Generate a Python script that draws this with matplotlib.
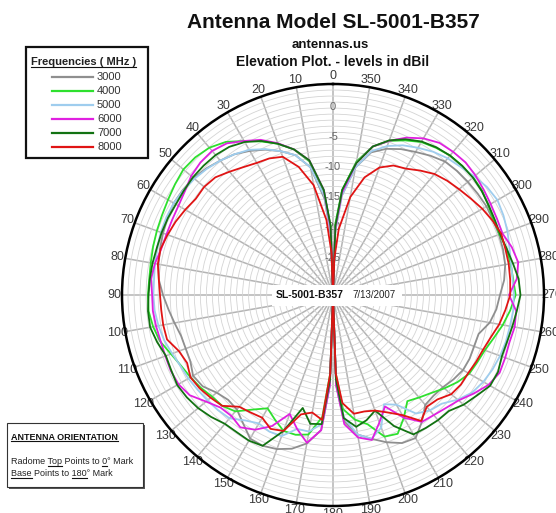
import matplotlib
matplotlib.use("Agg")
import matplotlib.pyplot as plt
import numpy as np
from matplotlib.lines import Line2D
from matplotlib.patches import Rectangle

plt.rcParams["font.family"] = ["Liberation Sans", "DejaVu Sans"]

# Elevation angles (deg) and gain (dBil) per frequency
angles = [0, 2, 5, 10, 15, 20, 25, 30, 35, 40, 45, 50, 55, 60, 65, 70, 75, 80, 85, 90,
          95, 100, 105, 110, 115, 120, 125, 130, 135, 140, 145, 150, 155, 160, 165, 170,
          175, 178, 180, 182, 185, 190, 195, 200, 205, 210, 215, 220, 225, 230, 235, 240,
          245, 250, 255, 260, 265, 270, 275, 280, 285, 290, 295, 300, 305, 310, 315, 320,
          325, 330, 335, 340, 345, 350, 355, 358, 360]

gain_3000 = [-30, -20, -14, -8.5, -6.0, -4.6, -3.4, -2.4, -1.5, -0.9, -0.3, 0.2, 0.4, 0.5, 0.3, 0.0,
             -0.3, -0.6, -1.0, -1.8, -2.6, -3.3, -3.9, -4.0, -3.9, -3.2, -3.6, -4.8, -5.4, -5.2,
             -4.0, -2.5, -2.4, -2.8, -3.6, -5.0, -7.5, -15, -30, -15, -9, -6.5, -5.3, -4.0, -2.9,
             -2.6, -4.3, -6.2, -6.4, -6.2, -5.6, -5.1, -5.0, -5.1, -5.0, -3.6, -2.8, -2.3, -1.5,
             -1.0, -0.8, -0.7, -0.7, -0.6, -0.7, -0.8, -0.9, -1.1, -1.8, -2.6, -3.3, -4.2, -5.5,
             -8.5, -13.5, -19.5, -30]
gain_4000 = [-30, -18.5, -13, -7.5, -5.0, -3.3, -1.9, -0.5, 1.0, 1.9, 2.3, 2.4, 2.0, 1.6, 1.3, 1.1,
             0.9, 0.7, 0.6, 0.7, 0.7, 0.3, -0.3, -1.4, -2.2, -2.7, -3.2, -3.8, -4.0, -4.8, -6.8,
             -8.3, -7.2, -6.0, -6.0, -6.5, -9.7, -17, -30, -17, -11, -9.0, -7.8, -5.0, -4.6, -6.5,
             -8.5, -7.8, -7.0, -5.9, -4.8, -3.9, -3.6, -3.2, -2.4, -1.4, -0.5, 0.3, 0.0, -0.1,
             -0.2, -0.6, -0.6, -0.25, 0.2, 0.35, 0.3, 0.2, -0.2, -0.7, -1.7, -2.8, -4.5, -7.5,
             -12.5, -18, -30]
gain_5000 = [-30, -20, -13.5, -8.5, -6.0, -4.6, -3.3, -2.2, -1.5, -0.9, -0.4, 0.0, 0.3, 0.5, 0.5,
             0.4, 0.2, 0.0, -0.2, -0.2, -0.3, -0.6, -1.0, -1.6, -2.1, -2.3, -2.6, -2.8, -3.0, -3.3,
             -4.6, -5.4, -5.0, -5.1, -7.0, -7.0, -8.5, -16, -30, -16, -9.7, -6.5, -5.3, -6.6,
             -10.0, -9.0, -6.0, -5.0, -4.5, -3.0, -1.8, -1.2, -0.8, -0.5, -0.3, -0.2, 0.0, 0.0,
             -0.1, 0.0, 0.3, 0.8, 1.2, 1.5, 1.2, 0.6, 0.0, -0.4, -1.0, -1.8, -2.6, -3.7, -5.3,
             -8.5, -13.5, -19.5, -30]
gain_6000 = [-30, -19, -12.5, -7.3, -5.0, -3.2, -1.6, -0.5, 0.7, 1.2, 1.1, 0.7, 0.0, -0.4, -0.55,
             -0.6, -0.5, 0.0, 0.3, 0.0, 0.0, -0.2, -0.4, -0.4, -0.3, -0.4, -1.0, -2.5, -3.6, -3.8,
             -3.2, -4.2, -6.0, -9.0, -7.0, -5.1, -7.5, -15, -30, -15, -8.5, -6.0, -5.1, -7.5, -9.6,
             -6.5, -4.3, -4.0, -3.5, -2.8, -1.5, -0.2, 0.5, 0.4, 0.3, 0.6, 0.5, -0.8, 0.6, 1.2,
             0.7, -0.1, 0.0, 0.2, 0.5, 0.85, 1.1, 1.0, 0.8, 0.0, -1.2, -2.8, -4.5, -7.8, -13,
             -19, -30]
gain_7000 = [-30, -18.5, -12.5, -7.3, -5.0, -3.3, -1.8, -0.7, 0.0, 0.3, 0.35, 0.35, 0.2, 0.1, 0.2,
             0.25, 0.25, 0.4, 0.5, 0.6, 0.8, 0.8, 0.2, -0.5, -0.4, -0.15, -0.4, -0.8, -1.4, -2.1,
             -2.2, -2.1, -2.4, -6.0, -10.6, -8.3, -8.5, -16, -30, -16, -9.5, -7.8, -8.5, -9.6, -6.0,
             -3.3, -3.1, -2.9, -2.8, -1.7, -0.9, 0.1, 0.2, -0.2, -0.1, 0.2, 0.6, 1.1, 0.9, 0.3,
             -0.2, -0.5, -0.4, -0.2, 0.1, 0.3, 0.3, 0.2, -0.1, -0.6, -1.5, -2.7, -4.5, -7.8, -12.5,
             -18.5, -30]
gain_8000 = [-30, -23, -17.5, -11.5, -8.0, -5.6, -5.0, -4.7, -4.1, -3.3, -2.4, -2.1, -2.2, -1.7,
             -1.2, -0.8, -0.4, -0.5, -1.0, -1.3, -1.4, -1.4, -1.5, -2.8, -3.3, -2.7, -3.0, -3.5,
             -4.0, -5.8, -6.2, -6.5, -5.5, -6.0, -9.5, -10.2, -9.2, -17, -30, -17, -12, -10.0,
             -10.0, -9.6, -8.5, -7.0, -4.5, -5.8, -5.5, -4.4, -4.1, -4.1, -3.8, -3.5, -2.9, -2.0,
             -1.3, -0.6, -0.5, -0.4, -0.4, -0.3, -0.8, -1.4, -2.1, -2.7, -3.2, -3.8, -4.8, -5.8,
             -6.3, -7.5, -9.8, -13.5, -19, -24, -30]

freq_labels = ["3000", "4000", "5000", "6000", "7000", "8000"]
freq_colors = ["#8f8f8f", "#2ee02e", "#9fcdee", "#e020e0", "#127212", "#e01414"]
gains = [gain_3000, gain_4000, gain_5000, gain_6000, gain_7000, gain_8000]

ring_labels = [0, -5, -10, -15, -20, -25]

for g in gains:
    if len(g) != len(angles):
        raise ValueError(f"length mismatch {len(g)} vs {len(angles)}")

W, H = 556, 513


def px(x):
    return x / W


def py(y):
    return 1 - y / H


fig = plt.figure(figsize=(W / 100, H / 100), dpi=100)
fig.patch.set_facecolor("white")

ax = fig.add_axes([px(122), 7 / H, 422 / W, 422 / H], projection="polar")
ax.set_theta_zero_location("N")
ax.set_theta_direction(1)
ax.set_ylim(-30, 5)

# dense 1 dB rings, 10 degree spokes
ax.set_yticks(np.arange(-29, 5, 1))
ax.set_yticklabels([])
ax.set_thetagrids(range(0, 360, 10), labels=[str(a) for a in range(0, 360, 10)])
ax.yaxis.grid(True, color="#d4d4d4", linewidth=0.6)
ax.xaxis.grid(True, color="#b4b4b4", linewidth=1.1)
ax.set_axisbelow(True)
ax.tick_params(axis="x", pad=-5, labelsize=9, labelcolor="#3a3a3a")
ax.spines["polar"].set_color("black")
ax.spines["polar"].set_linewidth(1.8)

th = np.radians(angles)
for g, col in zip(gains, freq_colors):
    ax.plot(th, g, color=col, linewidth=1.3, zorder=3)

for v in ring_labels:
    ax.text(0, v + 1.2, str(v), ha="center", va="center", fontsize=8, color="#666666", zorder=2)

# titles
fig.text(px(333), py(22), "Antenna Model SL-5001-B357", ha="center", va="center",
         fontsize=15, fontweight="bold", color="#111111")
fig.text(px(330), py(45), "antennas.us", ha="center", va="center",
         fontsize=9.5, fontweight="bold", color="#111111")
fig.text(px(333), py(62), "Elevation Plot. - levels in dBil", ha="center", va="center",
         fontsize=10, fontweight="bold", color="#111111")

renderer = fig.canvas.get_renderer()


def text_w(s, **kw):
    t = fig.text(0, 0, s + "|", **kw)
    w1 = t.get_window_extent(renderer).width
    t.set_text("|")
    w2 = t.get_window_extent(renderer).width
    t.remove()
    return w1 - w2


def underlined_line(x, y, pieces, **kw):
    # pieces: list of (string, underline?)
    full = "".join(p for p, _ in pieces)
    fig.text(px(x), py(y), full, ha="left", va="center", zorder=12, **kw)
    size = kw.get("fontsize", 8)
    uy = y + size * 0.62
    pos = ""
    for s, ul in pieces:
        if ul:
            x0 = x + text_w(pos, **kw)
            x1 = x0 + text_w(s, **kw)
            fig.add_artist(Line2D([px(x0), px(x1)], [py(uy), py(uy)], color="#111111",
                                  linewidth=0.8, zorder=12))
        pos += s


# center label box
fig.add_artist(Rectangle((px(272), py(306)), 130 / W, 21 / H, transform=fig.transFigure,
                         facecolor="white", edgecolor="none", zorder=10))
fig.text(px(310), py(295.5), "SL-5001-B357", ha="center", va="center", fontsize=7.5,
         fontweight="bold", color="#111111", zorder=11)
fig.text(px(374), py(295.5), "7/13/2007", ha="center", va="center", fontsize=7,
         color="#222222", zorder=11)

# frequency legend box
fig.add_artist(Rectangle((px(26), py(158)), 122 / W, 111 / H, transform=fig.transFigure,
                         facecolor="white", edgecolor="#111111", linewidth=1.6, zorder=10))
underlined_line(31, 62, [("Frequencies ( MHz )", True)], fontsize=8, fontweight="bold",
                color="#222222")
for i, (lab, col) in enumerate(zip(freq_labels, freq_colors)):
    y = 77 + 14 * i
    fig.add_artist(Line2D([px(52), px(93)], [py(y), py(y)], color=col, linewidth=1.6, zorder=11))
    fig.text(px(97), py(y), lab, ha="left", va="center", fontsize=8, color="#333333", zorder=11)

# antenna orientation box
fig.add_artist(Rectangle((px(9), py(489)), 136 / W, 64 / H, transform=fig.transFigure,
                         facecolor="#555555", edgecolor="none", zorder=9))
fig.add_artist(Rectangle((px(7), py(487)), 136 / W, 64 / H, transform=fig.transFigure,
                         facecolor="white", edgecolor="#333333", linewidth=0.8, zorder=10))
underlined_line(11, 437, [("ANTENNA ORIENTATION", True)], fontsize=6.5, fontweight="bold",
                color="#111111")
underlined_line(11, 462, [("Radome ", False), ("Top", True), (" Points to ", False),
                          ("0", True), ("° Mark", False)], fontsize=6.5, color="#222222")
underlined_line(11, 474, [("Base", True), (" Points to ", False), ("180", True),
                          ("° Mark", False)], fontsize=6.5, color="#222222")

fig.savefig("out.png", dpi=100, facecolor="white")
